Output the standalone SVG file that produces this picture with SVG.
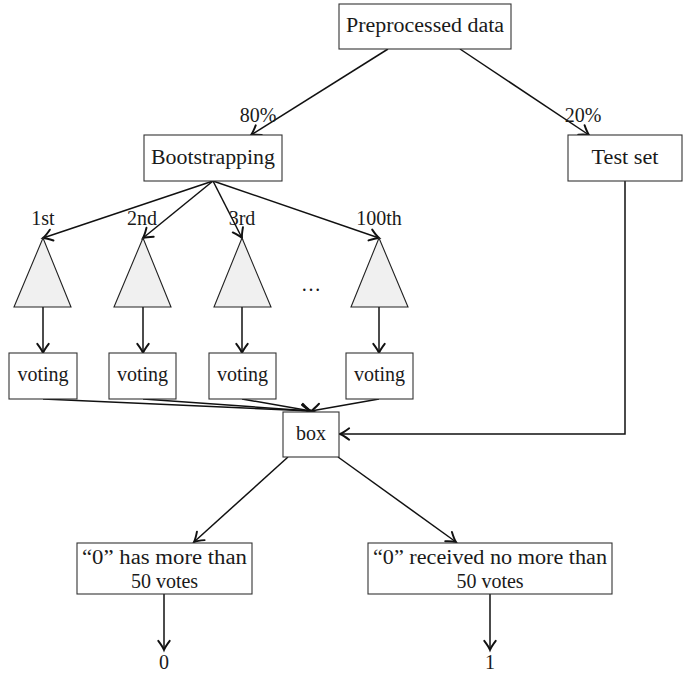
<svg xmlns="http://www.w3.org/2000/svg" width="693" height="675" viewBox="0 0 693 675" font-family="'Liberation Serif', 'DejaVu Serif', serif">
<style>
text{font-family:"Liberation Serif","DejaVu Serif",serif;font-size:20px;fill:#1a1a1a;text-anchor:middle}
.box{fill:#fff;stroke:#333;stroke-width:1.1}
.tri{fill:#f0f0f0;stroke:#222;stroke-width:1.1}
.edge{fill:none;stroke:#111;stroke-width:1.5}
</style>
<defs>
<marker id="arr" markerUnits="userSpaceOnUse" markerWidth="16" markerHeight="16" viewBox="-9 -7 11 14" refX="0" refY="0" orient="auto">
<path d="M-8,-5 Q-3,-1.2 0,0 Q-3,1.2 -8,5" fill="none" stroke="#111" stroke-width="1.7" stroke-linecap="round"/>
</marker>
</defs>
<rect width="693" height="675" fill="#fff"/>
<g id="edges">
<line class="edge" x1="388" y1="49" x2="251" y2="135" marker-end="url(#arr)"/>
<line class="edge" x1="460" y1="49" x2="589" y2="135" marker-end="url(#arr)"/>
<line class="edge" x1="213" y1="181" x2="43" y2="238" marker-end="url(#arr)"/>
<line class="edge" x1="213" y1="181" x2="143" y2="238" marker-end="url(#arr)"/>
<line class="edge" x1="213" y1="181" x2="242" y2="238" marker-end="url(#arr)"/>
<line class="edge" x1="213" y1="181" x2="379" y2="238" marker-end="url(#arr)"/>
<line class="edge" x1="43" y1="307" x2="43" y2="353" marker-end="url(#arr)"/>
<line class="edge" x1="143" y1="307" x2="143" y2="353" marker-end="url(#arr)"/>
<line class="edge" x1="242" y1="307" x2="242" y2="353" marker-end="url(#arr)"/>
<line class="edge" x1="379" y1="307" x2="379" y2="353" marker-end="url(#arr)"/>
<line class="edge" x1="43" y1="399" x2="311" y2="411" marker-end="url(#arr)"/>
<line class="edge" x1="143" y1="399" x2="311" y2="411" marker-end="url(#arr)"/>
<line class="edge" x1="242" y1="399" x2="311" y2="411" marker-end="url(#arr)"/>
<line class="edge" x1="379" y1="399" x2="311" y2="411" marker-end="url(#arr)"/>
<polyline class="edge" points="625,181 625,434 340,434" marker-end="url(#arr)"/>
<line class="edge" x1="288" y1="457" x2="194" y2="542" marker-end="url(#arr)"/>
<line class="edge" x1="338" y1="457" x2="456" y2="542" marker-end="url(#arr)"/>
<line class="edge" x1="164" y1="594" x2="164" y2="650" marker-end="url(#arr)"/>
<line class="edge" x1="490" y1="594" x2="490" y2="650" marker-end="url(#arr)"/>
</g>
<g id="labels">
<text x="258" y="122">80%</text>
<text x="583" y="122">20%</text>
<text x="43" y="225">1st</text>
<text x="142" y="225">2nd</text>
<text x="242" y="225">3rd</text>
<text x="379" y="225">100th</text>
<text x="311" y="291" textLength="20" lengthAdjust="spacing">…</text>
</g>
<g id="preprocessed">
<rect class="box" x="339" y="4" width="172" height="45"/>
<text x="425" y="32" textLength="158" lengthAdjust="spacingAndGlyphs">Preprocessed data</text>
</g>
<g id="bootstrapping">
<rect class="box" x="144" y="135" width="138" height="46"/>
<text x="213" y="164" textLength="124" lengthAdjust="spacingAndGlyphs">Bootstrapping</text>
</g>
<g id="testset">
<rect class="box" x="568" y="135" width="114" height="46"/>
<text x="625" y="164" textLength="67" lengthAdjust="spacingAndGlyphs">Test set</text>
</g>
<g id="tree1"><polygon class="tri" points="43,238 14,307 71,307"/></g>
<g id="tree2"><polygon class="tri" points="143,238 114,307 171,307"/></g>
<g id="tree3"><polygon class="tri" points="242,238 214,307 271,307"/></g>
<g id="tree100"><polygon class="tri" points="379,238 351,307 408,307"/></g>
<g id="voting1"><rect class="box" x="9" y="353" width="68" height="46"/><text x="43" y="381">voting</text></g>
<g id="voting2"><rect class="box" x="109" y="353" width="67" height="46"/><text x="142.5" y="381">voting</text></g>
<g id="voting3"><rect class="box" x="209" y="353" width="67" height="46"/><text x="242.5" y="381">voting</text></g>
<g id="voting100"><rect class="box" x="346" y="353" width="67" height="46"/><text x="379.5" y="381">voting</text></g>
<g id="box"><rect class="box" x="283" y="412" width="56" height="45"/><text x="311" y="440">box</text></g>
<g id="more">
<rect class="box" x="77" y="543" width="175" height="51"/>
<text x="164.5" y="564" textLength="165" lengthAdjust="spacingAndGlyphs">“0”  has more than</text>
<text x="164.5" y="588">50 votes</text>
</g>
<g id="nomore">
<rect class="box" x="368" y="543" width="244" height="51"/>
<text x="490" y="564" textLength="234" lengthAdjust="spacingAndGlyphs">“0”  received no more than</text>
<text x="490" y="588">50 votes</text>
</g>
<g id="out0"><text x="164" y="669" font-size="19">0</text></g>
<g id="out1"><text x="490" y="669" font-size="19">1</text></g>
</svg>
